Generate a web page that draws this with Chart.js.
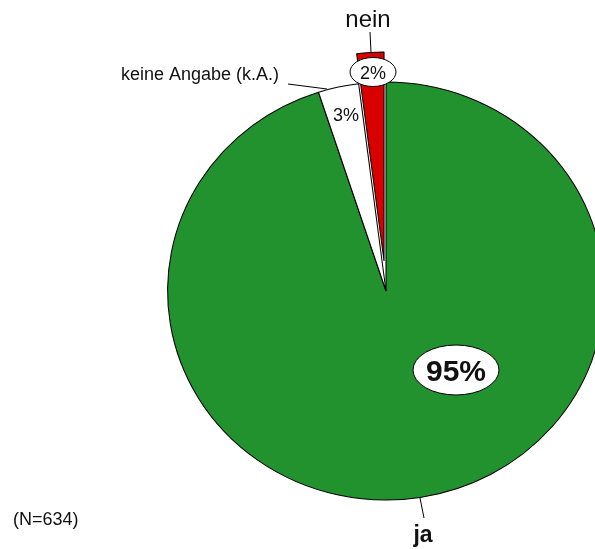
<!DOCTYPE html>
<html>
<head>
<meta charset="utf-8">
<script src="https://cdn.jsdelivr.net/npm/chart.js@4"></script>
<style>
html,body{margin:0;padding:0;background:#fff;overflow:hidden;width:595px;height:549px;}
#wrap{position:absolute;left:0;top:0;width:640px;height:549px;}
</style>
</head>
<body>
<div id="wrap"><canvas id="c" width="640" height="549"></canvas></div>
<script>
const categories = ["ja", "keine Angabe (k.A.)", "nein"];
const values = [95, 3, 2];
const percentLabels = ["95%", "3%", "2%"];
const sampleNote = "(N=634)";
const sliceColors = ["#22922f", "#ffffff", "#d90000"];
const explode = [0, 0, 30];

const FONT = "'Liberation Sans', Arial, sans-serif";
let CX = 0, CY = 0;

// pull exploded slices outward along their mid angle
const explodePlugin = {
  id: 'explode',
  afterDatasetUpdate(chart, args) {
    const arcs = args.meta.data;
    CX = arcs[0].x; CY = arcs[0].y;
    arcs.forEach((arc, i) => {
      const off = explode[i] || 0;
      if (!off) return;
      const mid = (arc.startAngle + arc.endAngle) / 2;
      arc.x += Math.cos(mid) * off;
      arc.y += Math.sin(mid) * off;
    });
  }
};

const ellipsePlugin = {
  id: 'ellipse',
  beforeDatasetsDraw(chart) {
    const ctx = chart.ctx;
    ctx.save();
    ctx.translate(CX, CY);
    ctx.scale(1.045, 1);
    ctx.translate(-CX, -CY);
  },
  afterDatasetsDraw(chart) {
    chart.ctx.restore();
  }
};

function ellipse(ctx, x, y, rx, ry) {
  ctx.beginPath();
  ctx.ellipse(x, y, rx, ry, 0, 0, Math.PI * 2);
  ctx.fillStyle = '#fff';
  ctx.fill();
  ctx.lineWidth = 1;
  ctx.strokeStyle = '#000';
  ctx.stroke();
}
function line(ctx, x1, y1, x2, y2) {
  ctx.beginPath();
  ctx.moveTo(x1, y1);
  ctx.lineTo(x2, y2);
  ctx.lineWidth = 1;
  ctx.strokeStyle = '#000';
  ctx.stroke();
}
function text(ctx, s, x, y, font, align) {
  ctx.font = font;
  ctx.fillStyle = '#111';
  ctx.textAlign = align || 'center';
  ctx.textBaseline = 'alphabetic';
  ctx.fillText(s, x, y);
}

const labelPlugin = {
  id: 'labels',
  afterDraw(chart) {
    const ctx = chart.ctx;
    const cx = CX, cy = CY;
    ctx.save();
    // nein
    text(ctx, categories[2], cx - 18, cy - 264, "24px " + FONT);
    line(ctx, cx - 16, cy - 259, cx - 15, cy - 239);
    ellipse(ctx, cx - 13, cy - 219, 23, 14.5);
    text(ctx, percentLabels[2], cx - 13, cy - 212, "18px " + FONT);
    // keine Angabe
    text(ctx, categories[1], cx - 186, cy - 211, "18px " + FONT);
    line(ctx, cx - 98, cy - 207, cx - 59, cy - 202);
    text(ctx, percentLabels[1], cx - 40, cy - 170, "18px " + FONT);
    // ja
    ellipse(ctx, cx + 70, cy + 79, 43, 25);
    text(ctx, percentLabels[0], cx + 70, cy + 90, "bold 30px " + FONT);
    line(ctx, cx + 34, cy + 207, cx + 38, cy + 227);
    text(ctx, categories[0], cx + 37, cy + 251, "bold 23px " + FONT);
    // N
    text(ctx, sampleNote, 13, 525, "18px " + FONT, 'left');
    ctx.restore();
  }
};

new Chart(document.getElementById('c'), {
  type: 'pie',
  data: {
    labels: categories,
    datasets: [{
      data: values,
      backgroundColor: sliceColors,
      borderColor: '#000',
      borderWidth: 1
    }]
  },
  options: {
    responsive: false,
    animation: false,
    radius: 209,
    layout: { padding: { left: 132, right: 0, top: 33, bottom: 0 } },
    plugins: { legend: { display: false }, tooltip: { enabled: false } }
  },
  plugins: [explodePlugin, ellipsePlugin, labelPlugin]
});
</script>
</body>
</html>
